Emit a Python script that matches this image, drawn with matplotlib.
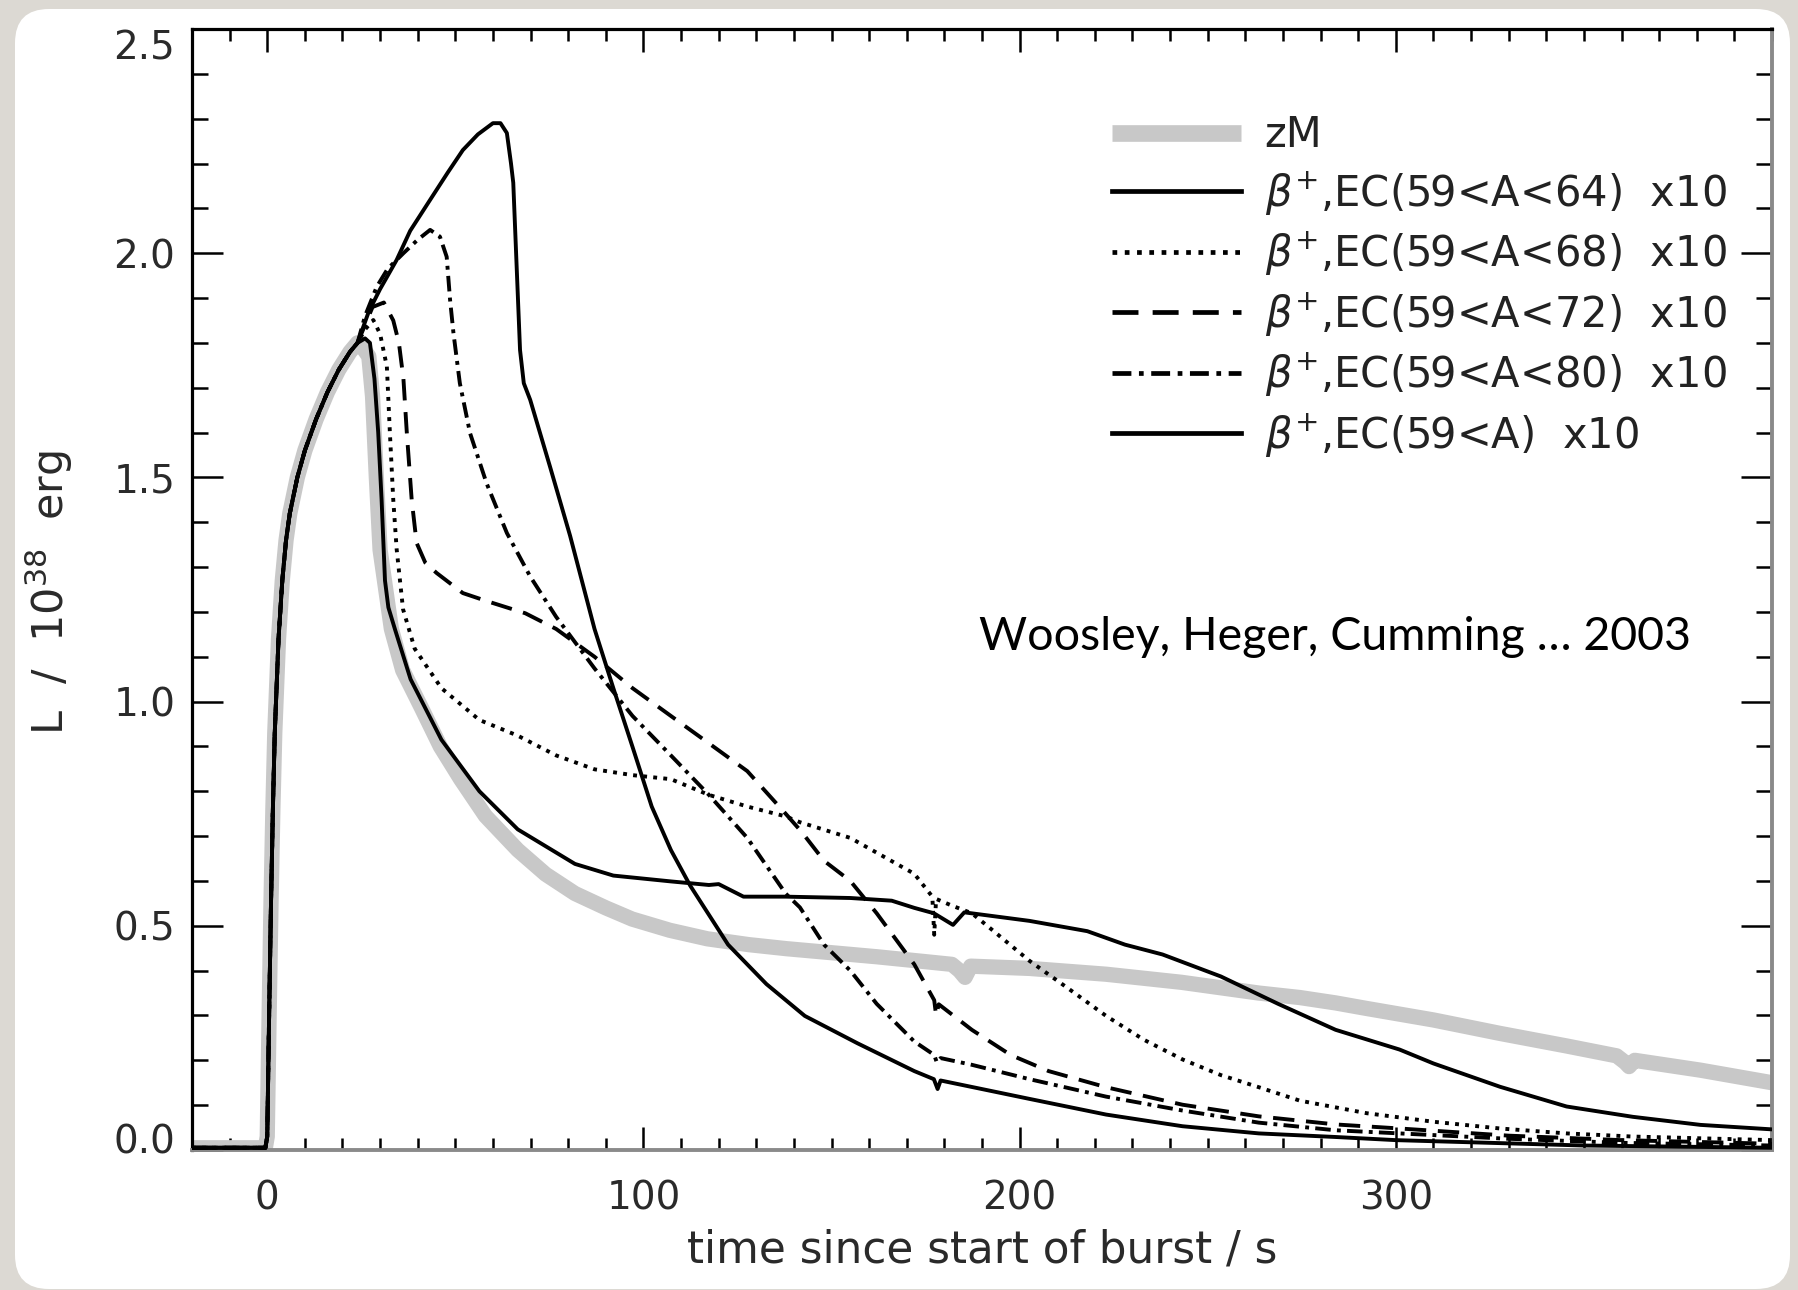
import matplotlib
matplotlib.use('Agg')
import matplotlib.pyplot as plt
from matplotlib.patches import FancyBboxPatch
from matplotlib.ticker import FixedLocator, MultipleLocator
from matplotlib.transforms import ScaledTranslation

plt.rcParams['font.family'] = ['DejaVu Sans']
plt.rcParams['mathtext.fontset'] = 'dejavusans'

# ---------------- data ----------------
# common pre-burst + rise part shared by all curves
t_rise = [-20, -0.5, 0.0, 0.5, 1.0, 1.5, 2.0, 3.0, 4.0, 5.0, 6.0, 8.0, 10.0, 13.0, 16.0, 19.0, 22.0, 24.0]
L_rise = [0.005, 0.005, 0.03, 0.30, 0.55, 0.76, 0.93, 1.14, 1.27, 1.36, 1.42, 1.50, 1.56, 1.63, 1.69, 1.74, 1.78, 1.80]

# zM (grey)
t_zm = [24.9, 27, 28, 29, 30, 33, 36, 41, 46, 51.4, 58, 66.6, 74, 81.8, 90, 97, 107, 117, 128, 138,
        150, 162, 175, 182, 184, 185.5, 187, 202.6, 223, 243, 263.6, 274.5, 284, 292, 310, 327.7,
        345.4, 358.7, 361, 362, 363.5, 381, 400]
L_zm = [1.795, 1.77, 1.68, 1.50, 1.338, 1.162, 1.07, 0.986, 0.90, 0.827, 0.745, 0.669, 0.615, 0.572,
        0.54, 0.515, 0.49, 0.471, 0.458, 0.449, 0.44, 0.431, 0.42, 0.414, 0.40, 0.385, 0.41, 0.405,
        0.392, 0.374, 0.35, 0.34, 0.328, 0.316, 0.29, 0.26, 0.232, 0.21, 0.195, 0.186, 0.20, 0.178, 0.15]

# beta+,EC(59<A<64) x10
t_64 = [26, 27.3, 28.5, 29.5, 30.4, 31.3, 32.2, 34, 38.1, 46.3, 56.4, 66.6, 81.8, 92, 107.3, 117.4, 120,
        126.6, 137.8, 155, 166, 172, 177.2, 182.3, 185.3, 202.6, 218, 228, 238, 253.5, 268.7, 284,
        301, 310, 327.7, 345.4, 363, 381, 400]
L_64 = [1.81, 1.80, 1.72, 1.60, 1.45, 1.27, 1.21, 1.16, 1.05, 0.915, 0.80, 0.715, 0.638, 0.612, 0.599,
        0.591, 0.593, 0.565, 0.565, 0.562, 0.556, 0.54, 0.528, 0.502, 0.53, 0.511, 0.488, 0.458,
        0.436, 0.387, 0.326, 0.268, 0.224, 0.193, 0.141, 0.097, 0.074, 0.056, 0.046]

# beta+,EC(59<A<68) x10
t_68 = [26, 28.2, 30, 31.8, 32.6, 33.5, 34.4, 36.1, 39.2, 46.3, 56.4, 66.6, 76.8, 87, 97.1, 107.3,
        117.4, 127.6, 137.8, 141.6, 155, 172, 176.8, 177.3, 177.8, 182, 187.3, 192.4, 202.6, 212.8,
        223, 233, 243.3, 253.5, 263.6, 274.5, 292.3, 310, 327.7, 345.4, 363, 400]
L_68 = [1.83, 1.851, 1.82, 1.747, 1.60, 1.45, 1.34, 1.206, 1.118, 1.03, 0.959, 0.924, 0.88, 0.849,
        0.836, 0.827, 0.792, 0.766, 0.744, 0.731, 0.696, 0.616, 0.565, 0.48, 0.56, 0.545, 0.528,
        0.493, 0.422, 0.361, 0.299, 0.246, 0.202, 0.167, 0.14, 0.11, 0.082, 0.063, 0.048, 0.037,
        0.03, 0.022]

# beta+,EC(59<A<72) x10
t_72 = [26, 28, 31, 33.5, 35, 36.2, 37.1, 38.4, 39.7, 42, 45, 52, 58.4, 68.6, 76.8, 87, 97.1, 107.3,
        117.4, 127.6, 137.8, 142, 148, 155, 162, 172, 177.3, 177.8, 178.5, 187.3, 197.6, 207.7, 223,
        243.3, 263.6, 284, 301, 330, 360, 400]
L_72 = [1.84, 1.88, 1.89, 1.85, 1.80, 1.72, 1.60, 1.45, 1.354, 1.31, 1.287, 1.242, 1.224, 1.197,
        1.162, 1.10, 1.03, 0.968, 0.907, 0.845, 0.75, 0.71, 0.645, 0.60, 0.528, 0.414, 0.334, 0.30,
        0.325, 0.268, 0.212, 0.176, 0.14, 0.101, 0.075, 0.057, 0.048, 0.032, 0.022, 0.014]

# beta+,EC(59<A<80) x10
t_80 = [26, 29.1, 32, 36.2, 40, 43.3, 45.9, 47.7, 48.6, 49.5, 51.2, 53.9, 58.3, 63.7, 69.9, 76.8, 87,
        97.1, 107.3, 117.4, 127.6, 137.8, 141.6, 148, 155, 162, 172, 177.3, 178, 179, 187.3, 202.6,
        223, 243.3, 263.6, 284, 301, 330, 360, 400]
L_80 = [1.86, 1.925, 1.965, 2.00, 2.03, 2.052, 2.037, 1.992, 1.896, 1.822, 1.71, 1.599, 1.487, 1.376,
        1.279, 1.189, 1.074, 0.968, 0.88, 0.792, 0.696, 0.572, 0.541, 0.458, 0.40, 0.326, 0.242,
        0.212, 0.195, 0.205, 0.19, 0.158, 0.119, 0.088, 0.061, 0.044, 0.037, 0.025, 0.016, 0.01]

# beta+,EC(59<A) x10
t_all = [27, 30, 34.4, 38, 43.3, 48, 52, 56, 60, 62, 63.7, 64.8, 65.4, 66.3, 67.2, 68.2, 69.9, 75.2,
         80.5, 87, 92, 97.1, 102.2, 107.3, 112.4, 122.5, 132.7, 142.9, 156.9, 172, 177.2, 178.2, 179,
         202.6, 223, 243.3, 263.6, 284, 300, 350, 400]
L_all = [1.87, 1.92, 1.985, 2.05, 2.119, 2.18, 2.23, 2.265, 2.29, 2.29, 2.268, 2.20, 2.157, 1.97,
         1.784, 1.71, 1.673, 1.523, 1.37, 1.162, 1.03, 0.899, 0.766, 0.669, 0.59, 0.458, 0.37, 0.299,
         0.238, 0.176, 0.158, 0.136, 0.155, 0.114, 0.079, 0.053, 0.037, 0.029, 0.022, 0.01, 0.005]

labels = ['zM',
          r'$\beta^{+}$,EC(59<A<64)  x10',
          r'$\beta^{+}$,EC(59<A<68)  x10',
          r'$\beta^{+}$,EC(59<A<72)  x10',
          r'$\beta^{+}$,EC(59<A<80)  x10',
          r'$\beta^{+}$,EC(59<A)  x10']

x_major = [0, 100, 200, 300]
x_major_labels = ['0', '100', '200', '300']
y_major = [0.0, 0.5, 1.0, 1.5, 2.0, 2.5]
y_major_labels = ['0.0', '0.5', '1.0', '1.5', '2.0', '2.5']

# ---------------- figure ----------------
W, H = 1798, 1290
fig = plt.figure(figsize=(W / 100, H / 100), dpi=100)
fig.patch.set_facecolor('#dcd9d3')

card = FancyBboxPatch((0.15, 0.01), 17.75, 12.80,
                      boxstyle='round,pad=0,rounding_size=0.34',
                      transform=fig.dpi_scale_trans, facecolor='white',
                      edgecolor='none', zorder=0)
fig.add_artist(card)

ax = fig.add_axes([192 / W, 1 - 1150 / H, 1580 / W, 1121 / H])
ax.set_facecolor('white')

tick_col = '#2a2a2a'
lw = 2.8
ax.plot(t_rise + t_zm, L_rise + L_zm, color='#c8c8c8', lw=11, solid_joinstyle='round',
        solid_capstyle='butt', label=labels[0], zorder=2)
ax.plot(t_rise + t_64, L_rise + L_64, color='black', lw=lw, ls='-', label=labels[1], zorder=3)
ax.plot(t_rise + t_68, L_rise + L_68, color='black', lw=lw, dashes=(1, 1.6), label=labels[2], zorder=3)
ax.plot(t_rise + t_72, L_rise + L_72, color='black', lw=lw, dashes=(5.5, 3), label=labels[3], zorder=3)
ax.plot(t_rise + t_80, L_rise + L_80, color='black', lw=lw, dashes=(4, 1.6, 1, 1.6), label=labels[4], zorder=3)
ax.plot(t_rise + t_all, L_rise + L_all, color='black', lw=lw, ls='-', label=labels[5], zorder=3)

ax.set_xlim(-20, 400)
ax.set_ylim(0, 2.5)

ax.xaxis.set_major_locator(FixedLocator(x_major))
ax.set_xticklabels(x_major_labels)
ax.xaxis.set_minor_locator(MultipleLocator(10))
ax.yaxis.set_major_locator(FixedLocator(y_major))
ax.set_yticklabels(y_major_labels)
ax.yaxis.set_minor_locator(MultipleLocator(0.1))

ax.tick_params(axis='both', which='both', direction='in', top=True, right=True,
               colors='black', labelcolor=tick_col, labelsize=28, width=1.8)
ax.tick_params(axis='x', which='major', length=16.5, pad=21)
ax.tick_params(axis='x', which='minor', length=8.5)
ax.tick_params(axis='y', which='major', length=22.5, pad=12)
ax.tick_params(axis='y', which='minor', length=11.5)

for side in ['left', 'top']:
    ax.spines[side].set_linewidth(2.3)
    ax.spines[side].set_color('black')
for side in ['bottom', 'right']:
    ax.spines[side].set_linewidth(2.8)
    ax.spines[side].set_color('#8a8a8a')

# IDL-like shift of the end labels of the y axis
yt = ax.yaxis.get_major_ticks()
yt[0].label1.set_transform(yt[0].label1.get_transform() +
                           ScaledTranslation(0, 12 / 100, fig.dpi_scale_trans))
yt[-1].label1.set_transform(yt[-1].label1.get_transform() +
                            ScaledTranslation(0, -15 / 100, fig.dpi_scale_trans))

ax.set_xlabel('time since start of burst / s', fontsize=31.5, color=tick_col)
ax.xaxis.set_label_coords(0.5, -0.0892)
ax.xaxis.label.set_va('center')
ax.set_ylabel(r'L  /  10$^{38}$  erg', fontsize=31, color=tick_col)
ax.yaxis.set_label_coords(-0.0905, 0.497)
ax.yaxis.label.set_va('center')

leg = ax.legend(loc='upper left', bbox_to_anchor=(0.5823, 0.924), frameon=False,
                fontsize=30, handlelength=3.1, handletextpad=0.56, labelspacing=0.30,
                borderpad=0, borderaxespad=0, labelcolor='#222222')
legl = leg.get_lines()
legl[0].set_linewidth(12)
for ln in legl[1:]:
    ln.set_linewidth(3.4)

ax.text(189.2, 1.115, 'Woosley, Heger, Cumming \u2026 2003', family='Lato', fontsize=33.5,
        color='black', ha='left', va='baseline')

fig.savefig('out.png', dpi=100, facecolor=fig.get_facecolor())
